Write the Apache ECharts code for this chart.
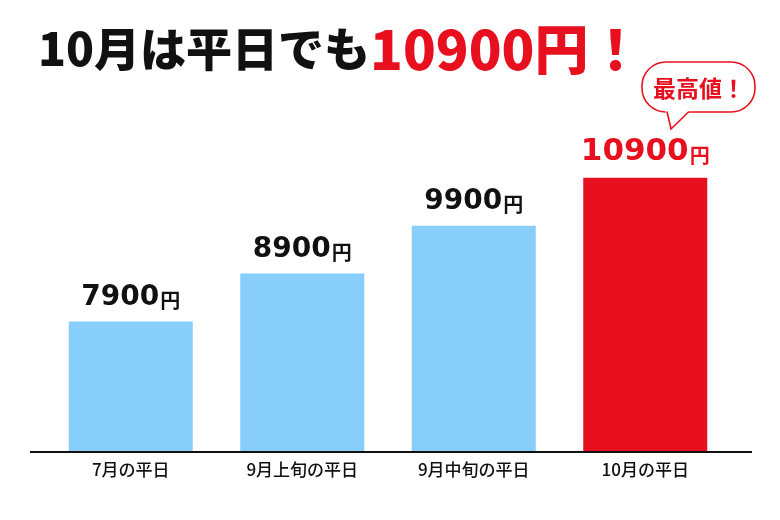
<!DOCTYPE html>
<html>
<head>
<meta charset="utf-8">
<script src="https://cdn.jsdelivr.net/npm/echarts@6/dist/echarts.min.js"></script>
<style>
  html, body { margin: 0; padding: 0; background: #fff; }
  #chart { width: 780px; height: 520px; }
</style>
</head>
<body>
<div id="chart"></div>
<script>
// data
const categories = ['7月の平日', '9月上旬の平日', '9月中旬の平日', '10月の平日']
const prices = [7900, 8900, 9900, 10900]
const highlightIndex = 3

const BLUE = '#87cefa'
const RED = '#e8101e'
const JP = '"Noto Sans CJK JP", "Noto Sans", sans-serif'
const NUM = '"DejaVu Sans", sans-serif'

const chart = echarts.init(document.getElementById('chart'))

const option = {
  animation: false,
  backgroundColor: '#ffffff',
  title: {
    text: '{a|10月は平日でも}{b|10900円！}',
    left: 33,
    top: 17,
    textStyle: {
      rich: {
        a: { fontFamily: JP, fontWeight: 900, fontSize: 46, color: '#111' },
        b: { fontFamily: JP, fontWeight: 900, fontSize: 54, color: RED }
      }
    }
  },
  grid: { left: 45, right: 49, top: 101, bottom: 69 },
  xAxis: {
    type: 'category',
    data: categories,
    axisLine: { show: false },
    axisTick: { show: false },
    axisLabel: {
      margin: 10,
      fontFamily: JP,
      fontSize: 17,
      fontWeight: 500,
      color: '#111'
    }
  },
  yAxis: {
    type: 'value',
    min: 5200,
    max: 12500,
    show: false,
    splitLine: { show: false }
  },
  series: [{
    type: 'bar',
    barWidth: 124,
    data: prices.map((v, i) => {
      const hi = i === highlightIndex
      return {
        value: v,
        itemStyle: { color: hi ? RED : BLUE },
        label: {
          rich: {
            n: { color: hi ? RED : '#111', fontSize: hi ? 31 : 28 },
            u: { color: hi ? RED : '#111' }
          }
        }
      }
    }),
    label: {
      show: true,
      position: 'top',
      distance: 10,
      formatter: p => '{n|' + p.value + '}{u|円}',
      rich: {
        n: { fontFamily: NUM, fontWeight: 'bold', fontSize: 28 },
        u: { fontFamily: JP, fontWeight: 'bold', fontSize: 20, padding: [6, 0, 0, 1] }
      }
    }
  }],
  graphic: [
    {
      type: 'line',
      shape: { x1: 30, y1: 452, x2: 752, y2: 452 },
      style: { stroke: '#111', lineWidth: 2 }
    },
    // speech bubble
    {
      type: 'rect',
      shape: { x: 642, y: 62, width: 113, height: 50, r: 24 },
      style: { fill: '#fff', stroke: RED, lineWidth: 1.6 }
    },
    {
      type: 'polygon',
      shape: { points: [[665, 110], [671, 129], [691, 110]] },
      style: { fill: '#fff' }
    },
    {
      type: 'polyline',
      shape: { points: [[667, 111.5], [671, 129], [689, 111.5]] },
      style: { stroke: RED, lineWidth: 1.6, fill: null }
    },
    {
      type: 'text',
      x: 699,
      y: 88,
      style: {
        text: '最高値！',
        fill: RED,
        font: 'bold 23px ' + JP,
        textAlign: 'center',
        textVerticalAlign: 'middle'
      }
    }
  ]
}

chart.setOption(option)
</script>
</body>
</html>
